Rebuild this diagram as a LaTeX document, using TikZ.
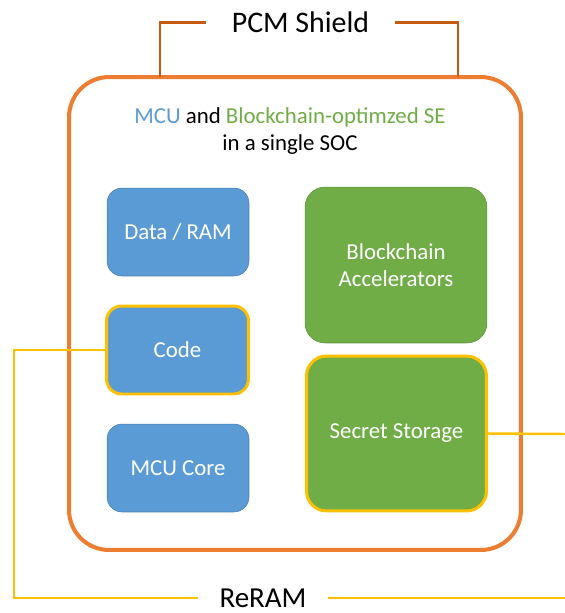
\documentclass[tikz,border=0pt]{standalone}
\usepackage{fontspec}
\setmainfont{Carlito}
\usepackage{tikz}
\definecolor{socorange}{HTML}{ED7D31}
\definecolor{shieldbrown}{HTML}{C55A11}
\definecolor{mcublue}{HTML}{5B9BD5}
\definecolor{segreen}{HTML}{70AD47}
\definecolor{reramyellow}{HTML}{FFC000}
\tikzstyle{McuBlock}=[rectangle, rounded corners=0.3cm, fill=mcublue, draw=mcublue!80!black, line width=0.3pt, text=white, align=center, font=\fontsize{13}{15.6}\selectfont, minimum width=2.84cm, minimum height=1.76cm]
\tikzstyle{SeBlock}=[rectangle, rounded corners=0.4cm, fill=segreen, draw=segreen!85!black, line width=0.3pt, text=white, align=center, font=\fontsize{13}{15.6}\selectfont, minimum width=3.64cm, minimum height=3.12cm]
\tikzstyle{ReramPart}=[draw=reramyellow, line width=1.7pt]
\tikzstyle{ReramLine}=[draw=reramyellow, line width=1.4pt]
\tikzstyle{ShieldLine}=[draw=shieldbrown, line width=1.4pt]

\begin{document}
\begin{tikzpicture}[x=0.02cm, y=-0.02cm]
    \useasboundingbox (0,0) rectangle (565,613);
    \path
    (295,313.5) node[rectangle, rounded corners=0.8cm, draw=socorange, line width=2.3pt, minimum width=9.04cm, minimum height=9.46cm] (soc) {}
    (290,131) node[align=center, font=\fontsize{13}{15.6}\selectfont] (title) {\textcolor{mcublue}{MCU} and \textcolor{segreen}{Blockchain-optimzed SE}\\in a single SOC};

    \path
    (178,232) node[McuBlock] (ram) {Data / RAM}
    (177.5,350) node[McuBlock, ReramPart, minimum width=2.84cm] (code) {Code}
    (178,468) node[McuBlock] (core) {MCU Core}
    (396,265) node[SeBlock] (accel) {Blockchain\\Accelerators}
    (396.5,433.5) node[SeBlock, ReramPart, minimum width=3.6cm, minimum height=3.1cm] (secret) {Secret Storage};

    \path
    (300.5,22.7) node[minimum width=3.78cm, inner sep=0pt, font=\fontsize{17}{20}\selectfont] (pcm) {PCM Shield}
    (263,598) node[minimum width=2.6cm, inner sep=0pt, font=\fontsize{16.5}{20}\selectfont] (reram) {ReRAM};

    % shield bracket on top of the SOC
    \coordinate (shieldL) at (160,77);
    \coordinate (shieldR) at (458,77);
    \draw[ShieldLine] (pcm.west) -| (shieldL);
    \draw[ShieldLine] (pcm.east) -| (shieldR);

    % ReRAM parts
    \coordinate (leftbend) at (14,350);
    \coordinate (rightend) at (565,434);
    \coordinate (bottomend) at (565,598);
    \draw[ReramLine] (code.west) -- (leftbend) |- (reram.west);
    \draw[ReramLine] (reram.east) -- (bottomend);
    \draw[ReramLine] (secret.east) -- (rightend);
\end{tikzpicture}
\end{document}
